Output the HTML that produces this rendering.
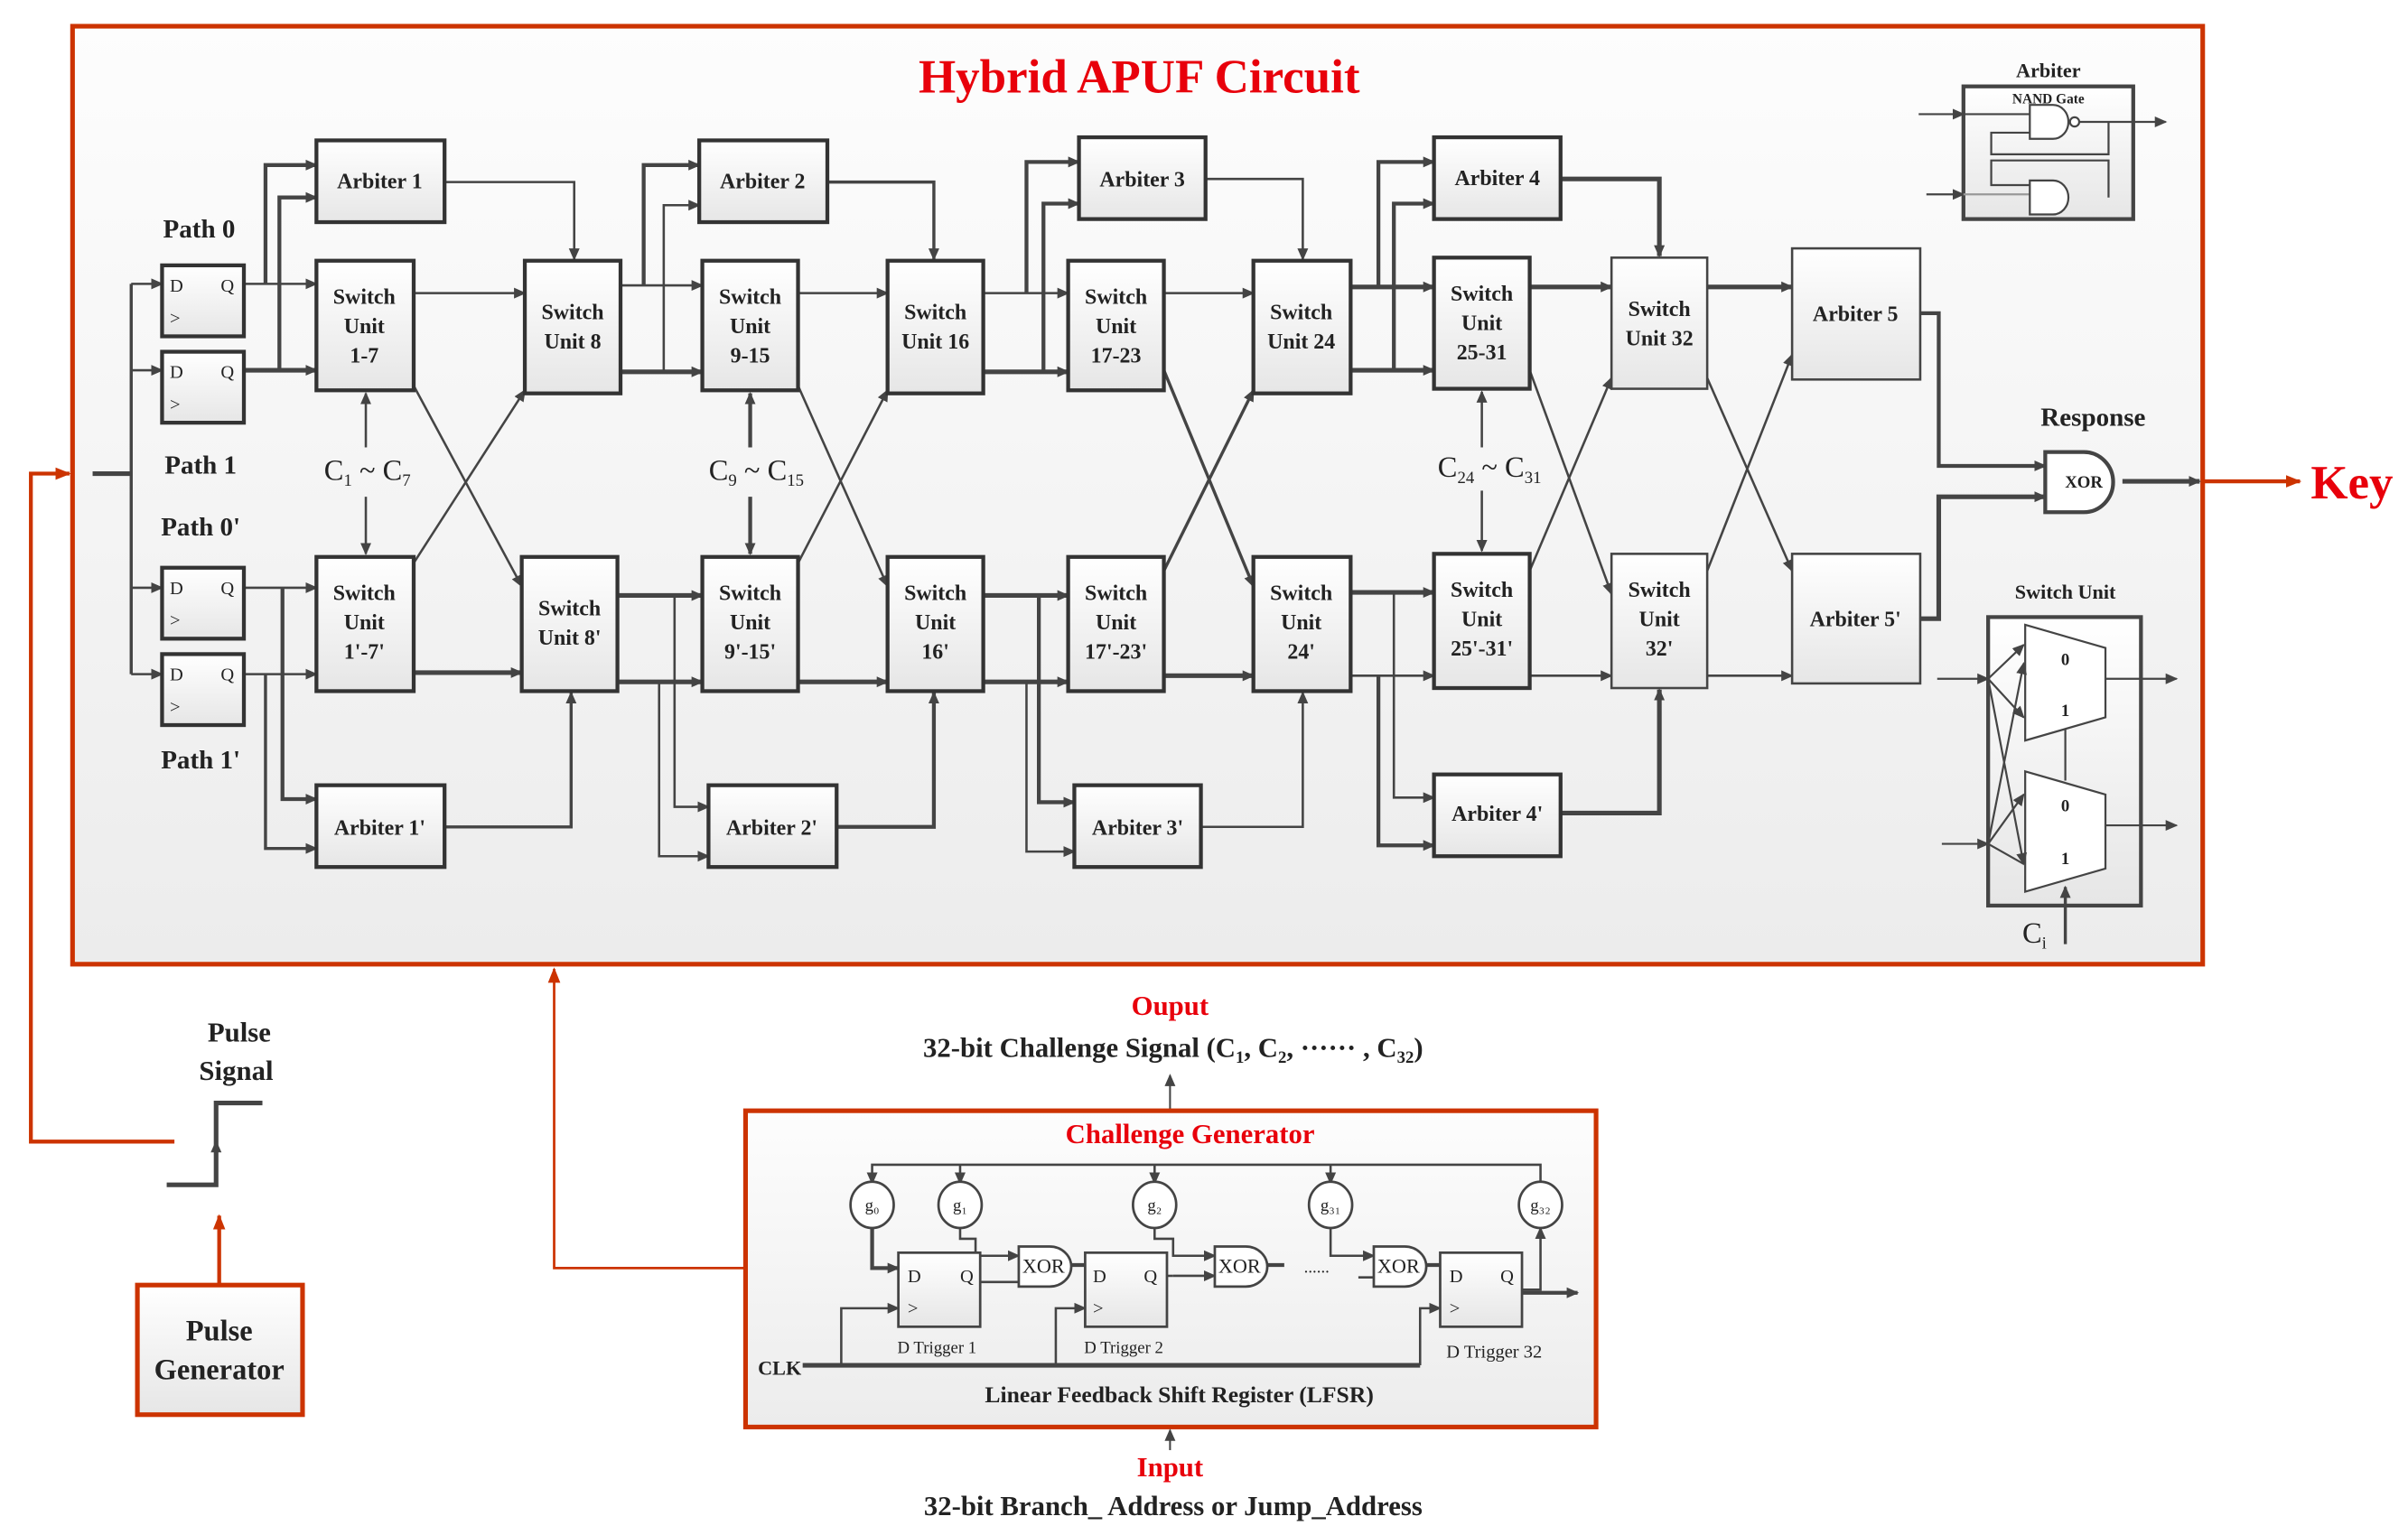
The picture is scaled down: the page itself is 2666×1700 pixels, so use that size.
<!DOCTYPE html>
<html><head><meta charset="utf-8"><style>
html,body{margin:0;padding:0;background:#fff;}
svg{display:block;}
text{font-family:"Liberation Serif",serif;fill:#222;}
.b{font-weight:bold;}
</style></head><body>
<svg width="2666" height="1700" viewBox="0 0 1560 995" preserveAspectRatio="none" xmlns="http://www.w3.org/2000/svg">
<defs>
<linearGradient id="bg" x1="0" y1="0" x2="0" y2="1"><stop offset="0" stop-color="#fdfdfd"/><stop offset="1" stop-color="#ececec"/></linearGradient>
<linearGradient id="bx" x1="0" y1="0" x2="0" y2="1"><stop offset="0" stop-color="#ffffff"/><stop offset="1" stop-color="#e6e6e6"/></linearGradient>
<marker id="a" markerWidth="8" markerHeight="8" refX="7" refY="4" orient="auto" markerUnits="userSpaceOnUse"><path d="M0,0.5 L8,4 L0,7.5 z" fill="#444"/></marker>
<marker id="r" markerWidth="10" markerHeight="10" refX="9" refY="5" orient="auto" markerUnits="userSpaceOnUse"><path d="M0,1 L10,5 L0,9 z" fill="#cc3300"/></marker>
</defs>

<!-- main box -->
<rect x="47" y="17" width="1380" height="608" fill="url(#bg)" stroke="#cc3300" stroke-width="3"/>
<text x="738" y="60" font-size="31" class="b" fill="#e00" text-anchor="middle" style="fill:#e8000b">Hybrid APUF Circuit</text>

<!-- red external -->
<g stroke="#cc3300" stroke-width="2.5" fill="none">
<polyline points="113,740 20,740 20,307 45,307" marker-end="url(#r)"/>
<line x1="142" y1="833" x2="142" y2="788" marker-end="url(#r)"/>
<polyline points="483,822 359,822 359,628" stroke-width="1.6" marker-end="url(#r)"/>
<line x1="1427" y1="312" x2="1490" y2="312" marker-end="url(#r)"/>
</g>
<text x="1497" y="323" font-size="31" class="b" style="fill:#e8000b">Key</text>

<!-- pulse -->
<text x="155" y="675" font-size="18" class="b" text-anchor="middle">Pulse</text>
<text x="153" y="700" font-size="18" class="b" text-anchor="middle">Signal</text>
<polyline points="108,768 140,768 140,715 170,715" fill="none" stroke="#444" stroke-width="3"/>
<line x1="140" y1="752" x2="140" y2="740" stroke="#444" stroke-width="2" marker-end="url(#a)"/>
<rect x="89" y="833" width="107" height="84" fill="url(#bx)" stroke="#cc3300" stroke-width="3"/>
<text x="142" y="869" font-size="19" class="b" text-anchor="middle">Pulse</text>
<text x="142" y="894" font-size="19" class="b" text-anchor="middle">Generator</text>

<!-- challenge generator -->
<text x="758" y="658" font-size="18" class="b" text-anchor="middle" style="fill:#e8000b">Ouput</text>
<text x="760" y="685" font-size="18" class="b" text-anchor="middle">32-bit Challenge Signal (C<tspan font-size="11" dy="4">1</tspan><tspan dy="-4">, C</tspan><tspan font-size="11" dy="4">2</tspan><tspan dy="-4">, ······ , C</tspan><tspan font-size="11" dy="4">32</tspan><tspan dy="-4">)</tspan></text>
<line x1="758" y1="720" x2="758" y2="697" stroke="#444" stroke-width="1.2" marker-end="url(#a)"/>
<rect x="483" y="720" width="551" height="205" fill="url(#bg)" stroke="#cc3300" stroke-width="3"/>
<text x="771" y="741" font-size="18" class="b" text-anchor="middle" style="fill:#e8000b">Challenge Generator</text>
<g stroke="#444" stroke-width="1.5" fill="none">
<polyline points="998,766 998,755 565,755 565,767" marker-end="url(#a)"/>
<line x1="622" y1="755" x2="622" y2="767" marker-end="url(#a)"/>
<line x1="748" y1="755" x2="748" y2="767" marker-end="url(#a)"/>
<line x1="862" y1="755" x2="862" y2="767" marker-end="url(#a)"/>
<polyline points="565,795 565,822 582,822" stroke-width="2.5" marker-end="url(#a)"/>
<polyline points="622,795 622,803 632,803 632,814 660,814" marker-end="url(#a)"/>
<polyline points="748,795 748,803 760,803 760,814 787,814" marker-end="url(#a)"/>
<line x1="760" y1="827" x2="787" y2="827" marker-end="url(#a)"/>
<polyline points="862,795 862,814 890,814" marker-end="url(#a)"/>
<line x1="635" y1="831" x2="660" y2="831"/>
<line x1="693" y1="820" x2="703" y2="820" stroke-width="2.5"/>
<line x1="755" y1="827" x2="760" y2="827"/>
<line x1="820" y1="820" x2="832" y2="820" stroke-width="2.5"/>
<line x1="880" y1="828" x2="890" y2="828"/>
<line x1="923" y1="820" x2="933" y2="820" stroke-width="2.5"/>
<polyline points="986,836 998,836 998,796" marker-end="url(#a)"/>
<line x1="986" y1="838" x2="1022" y2="838" stroke-width="2.5" marker-end="url(#a)"/>
<line x1="520" y1="885" x2="920" y2="885" stroke-width="3"/>
<polyline points="545,885 545,848 582,848" marker-end="url(#a)"/>
<polyline points="684,885 684,848 703,848" marker-end="url(#a)"/>
<polyline points="920,885 920,848 933,848" marker-end="url(#a)"/>
</g>
<g stroke="#444" stroke-width="1.6" fill="#fff">
<ellipse cx="565" cy="781" rx="14" ry="15"/><ellipse cx="622" cy="781" rx="14" ry="15"/><ellipse cx="748" cy="781" rx="14" ry="15"/><ellipse cx="862" cy="781" rx="14" ry="15"/><ellipse cx="998" cy="781" rx="14" ry="15"/>
<rect x="582" y="812" width="53" height="48" fill="url(#bx)"/>
<rect x="703" y="812" width="53" height="48" fill="url(#bx)"/>
<rect x="933" y="812" width="53" height="48" fill="url(#bx)"/>
<path d="M660,808 H680 A14,13 0 0 1 680,834 H660 z"/>
<path d="M787,808 H807 A14,13 0 0 1 807,834 H787 z"/>
<path d="M890,808 H910 A14,13 0 0 1 910,834 H890 z"/>
</g>
<g font-size="11" text-anchor="middle">
<text x="565" y="785">g₀</text><text x="622" y="785">g₁</text><text x="748" y="785">g₂</text><text x="862" y="785">g₃₁</text><text x="998" y="785">g₃₂</text>
<text x="676" y="825" font-size="13">XOR</text><text x="803" y="825" font-size="13">XOR</text><text x="906" y="825" font-size="13">XOR</text>
<text x="853" y="825">......</text>
</g>
<g font-size="12">
<text x="588" y="831">D</text><text x="622" y="831">Q</text><text x="588" y="852">&gt;</text>
<text x="708" y="831">D</text><text x="741" y="831">Q</text><text x="708" y="852">&gt;</text>
<text x="939" y="831">D</text><text x="972" y="831">Q</text><text x="939" y="852">&gt;</text>
<text x="607" y="877" text-anchor="middle" font-size="11">D Trigger 1</text>
<text x="728" y="877" text-anchor="middle" font-size="11">D Trigger 2</text>
<text x="968" y="880" text-anchor="middle" font-size="12">D Trigger 32</text>
<text x="491" y="891" font-size="13" class="b">CLK</text>
</g>
<text x="764" y="909" font-size="15" class="b" text-anchor="middle">Linear Feedback Shift Register (LFSR)</text>
<line x1="758" y1="940" x2="758" y2="927" stroke="#444" stroke-width="1.2" marker-end="url(#a)"/>
<text x="758" y="957" font-size="18" class="b" text-anchor="middle" style="fill:#e8000b">Input</text>
<text x="760" y="982" font-size="18" class="b" text-anchor="middle">32-bit Branch_ Address or Jump_Address</text>

<!-- APUF wiring -->
<g stroke="#444" stroke-width="1.5" fill="none">
<line x1="60" y1="307" x2="85" y2="307" stroke-width="3"/>
<line x1="85" y1="184" x2="85" y2="437" stroke-width="2"/>
<line x1="85" y1="184" x2="105" y2="184" marker-end="url(#a)"/>
<line x1="85" y1="240" x2="105" y2="240" marker-end="url(#a)"/>
<line x1="85" y1="381" x2="105" y2="381" marker-end="url(#a)"/>
<line x1="85" y1="437" x2="105" y2="437" marker-end="url(#a)"/>
<!-- stage A -->
<line x1="158" y1="184" x2="205" y2="184" marker-end="url(#a)"/>
<line x1="158" y1="240" x2="205" y2="240" stroke-width="3" marker-end="url(#a)"/>
<polyline points="172,184 172,107 205,107" stroke-width="2.5" marker-end="url(#a)"/>
<polyline points="181,240 181,128 205,128" stroke-width="2.5" marker-end="url(#a)"/>
<line x1="158" y1="381" x2="205" y2="381" marker-end="url(#a)"/>
<line x1="158" y1="437" x2="205" y2="437" marker-end="url(#a)"/>
<polyline points="183,381 183,518 205,518" stroke-width="2.5" marker-end="url(#a)"/>
<polyline points="172,437 172,550 205,550" stroke-width="2" marker-end="url(#a)"/>
<!-- stage B -->
<line x1="268" y1="190" x2="340" y2="190" marker-end="url(#a)"/>
<line x1="268" y1="250" x2="338" y2="380" marker-end="url(#a)"/>
<line x1="268" y1="365" x2="340" y2="253" marker-end="url(#a)"/>
<line x1="268" y1="436" x2="338" y2="436" stroke-width="3" marker-end="url(#a)"/>
<polyline points="288,118 372,118 372,168" marker-end="url(#a)"/>
<polyline points="288,536 370,536 370,449" stroke-width="2" marker-end="url(#a)"/>
<!-- stage C -->
<line x1="402" y1="185" x2="455" y2="185" marker-end="url(#a)"/>
<line x1="402" y1="241" x2="455" y2="241" stroke-width="3" marker-end="url(#a)"/>
<polyline points="417,185 417,107 453,107" stroke-width="2.5" marker-end="url(#a)"/>
<polyline points="430,241 430,133 453,133" marker-end="url(#a)"/>
<line x1="400" y1="386" x2="455" y2="386" stroke-width="3" marker-end="url(#a)"/>
<line x1="400" y1="442" x2="455" y2="442" stroke-width="3" marker-end="url(#a)"/>
<polyline points="437,386 437,523 459,523" marker-end="url(#a)"/>
<polyline points="427,442 427,555 459,555" marker-end="url(#a)"/>
<!-- stage D -->
<line x1="517" y1="190" x2="575" y2="190" marker-end="url(#a)"/>
<line x1="517" y1="250" x2="575" y2="380" marker-end="url(#a)"/>
<line x1="517" y1="365" x2="575" y2="253" marker-end="url(#a)"/>
<line x1="517" y1="442" x2="575" y2="442" stroke-width="3" marker-end="url(#a)"/>
<polyline points="536,118 605,118 605,168" stroke-width="2" marker-end="url(#a)"/>
<polyline points="542,536 605,536 605,449" stroke-width="2.5" marker-end="url(#a)"/>
<!-- stage E -->
<line x1="637" y1="190" x2="692" y2="190" marker-end="url(#a)"/>
<line x1="637" y1="241" x2="692" y2="241" stroke-width="3" marker-end="url(#a)"/>
<polyline points="665,190 665,105 699,105" stroke-width="2.5" marker-end="url(#a)"/>
<polyline points="676,241 676,132 699,132" stroke-width="2.5" marker-end="url(#a)"/>
<line x1="637" y1="386" x2="692" y2="386" stroke-width="3" marker-end="url(#a)"/>
<line x1="637" y1="442" x2="692" y2="442" stroke-width="3" marker-end="url(#a)"/>
<polyline points="673,386 673,520 696,520" stroke-width="2.5" marker-end="url(#a)"/>
<polyline points="665,442 665,552 696,552" marker-end="url(#a)"/>
<!-- stage F -->
<line x1="754" y1="190" x2="812" y2="190" marker-end="url(#a)"/>
<line x1="754" y1="240" x2="812" y2="380" stroke-width="2" marker-end="url(#a)"/>
<line x1="754" y1="370" x2="812" y2="253" stroke-width="2" marker-end="url(#a)"/>
<line x1="754" y1="438" x2="812" y2="438" stroke-width="3" marker-end="url(#a)"/>
<polyline points="781,116 844,116 844,168" marker-end="url(#a)"/>
<polyline points="778,536 844,536 844,449" marker-end="url(#a)"/>
<!-- stage G -->
<line x1="875" y1="186" x2="929" y2="186" stroke-width="3" marker-end="url(#a)"/>
<line x1="875" y1="240" x2="929" y2="240" stroke-width="3" marker-end="url(#a)"/>
<polyline points="893,186 893,105 929,105" stroke-width="2.5" marker-end="url(#a)"/>
<polyline points="903,240 903,132 929,132" stroke-width="2.5" marker-end="url(#a)"/>
<line x1="875" y1="384" x2="929" y2="384" stroke-width="3" marker-end="url(#a)"/>
<line x1="875" y1="438" x2="929" y2="438" marker-end="url(#a)"/>
<polyline points="903,384 903,517 929,517" marker-end="url(#a)"/>
<polyline points="893,438 893,548 929,548" stroke-width="2.5" marker-end="url(#a)"/>
<!-- stage H -->
<line x1="991" y1="186" x2="1044" y2="186" stroke-width="3" marker-end="url(#a)"/>
<line x1="991" y1="240" x2="1044" y2="385" marker-end="url(#a)"/>
<line x1="991" y1="370" x2="1044" y2="245" marker-end="url(#a)"/>
<line x1="991" y1="438" x2="1044" y2="438" marker-end="url(#a)"/>
<polyline points="1011,116 1075,116 1075,166" stroke-width="3" marker-end="url(#a)"/>
<polyline points="1011,527 1075,527 1075,447" stroke-width="3" marker-end="url(#a)"/>
<!-- stage I -->
<line x1="1106" y1="186" x2="1161" y2="186" stroke-width="3" marker-end="url(#a)"/>
<line x1="1106" y1="245" x2="1161" y2="370" marker-end="url(#a)"/>
<line x1="1106" y1="370" x2="1161" y2="230" marker-end="url(#a)"/>
<line x1="1106" y1="438" x2="1161" y2="438" marker-end="url(#a)"/>
<!-- response -->
<polyline points="1244,203 1256,203 1256,302 1325,302" stroke-width="2.5" marker-end="url(#a)"/>
<polyline points="1244,401 1256,401 1256,322 1325,322" stroke-width="3" marker-end="url(#a)"/>
<line x1="1375" y1="312" x2="1425" y2="312" stroke-width="3" marker-end="url(#a)"/>
<!-- C arrows -->
<line x1="237" y1="290" x2="237" y2="255" marker-end="url(#a)"/><line x1="237" y1="322" x2="237" y2="359" marker-end="url(#a)"/>
<line x1="486" y1="290" x2="486" y2="255" stroke-width="2.5" marker-end="url(#a)"/><line x1="486" y1="322" x2="486" y2="359" stroke-width="2.5" marker-end="url(#a)"/>
<line x1="960" y1="290" x2="960" y2="254" marker-end="url(#a)"/><line x1="960" y1="318" x2="960" y2="357" marker-end="url(#a)"/>
</g>

<!-- boxes -->
<g stroke="#333" stroke-width="2.5" fill="url(#bx)">
<rect x="105" y="172" width="53" height="46"/><rect x="105" y="228" width="53" height="46"/>
<rect x="105" y="368" width="53" height="46"/><rect x="105" y="424" width="53" height="46"/>
<rect x="205" y="91" width="83" height="53"/><rect x="205" y="509" width="83" height="53"/>
<rect x="205" y="169" width="63" height="84"/><rect x="205" y="361" width="63" height="87"/>
<rect x="340" y="169" width="62" height="86"/><rect x="338" y="361" width="62" height="87"/>
<rect x="453" y="91" width="83" height="53"/><rect x="459" y="509" width="83" height="53"/>
<rect x="455" y="169" width="62" height="84"/><rect x="455" y="361" width="62" height="87"/>
<rect x="575" y="169" width="62" height="86"/><rect x="575" y="361" width="62" height="87"/>
<rect x="699" y="89" width="82" height="53"/><rect x="696" y="509" width="82" height="53"/>
<rect x="692" y="169" width="62" height="84"/><rect x="692" y="361" width="62" height="87"/>
<rect x="812" y="169" width="63" height="86"/><rect x="812" y="361" width="63" height="87"/>
<rect x="929" y="89" width="82" height="53"/><rect x="929" y="502" width="82" height="53"/>
<rect x="929" y="167" width="62" height="85"/><rect x="929" y="359" width="62" height="87"/>
</g>
<g stroke="#444" stroke-width="1.5" fill="url(#bx)">
<rect x="1044" y="167" width="62" height="85"/><rect x="1044" y="359" width="62" height="87"/>
<rect x="1161" y="161" width="83" height="85"/><rect x="1161" y="359" width="83" height="84"/>
<path d="M1325,293 H1350 A19,19.5 0 0 1 1350,332 H1325 z" stroke-width="2.5" fill="#fff"/>
</g>
<g font-size="12">
<text x="110" y="189">D</text><text x="143" y="189">Q</text><text x="110" y="210">&gt;</text>
<text x="110" y="245">D</text><text x="143" y="245">Q</text><text x="110" y="266">&gt;</text>
<text x="110" y="385">D</text><text x="143" y="385">Q</text><text x="110" y="406">&gt;</text>
<text x="110" y="441">D</text><text x="143" y="441">Q</text><text x="110" y="462">&gt;</text>
</g>
<g font-size="17" class="b" text-anchor="middle">
<text x="129" y="154">Path 0</text><text x="130" y="307">Path 1</text><text x="130" y="347">Path 0'</text><text x="130" y="498">Path 1'</text>
<text x="1356" y="276">Response</text>
</g>
<g font-size="19" text-anchor="middle">
<text x="238" y="311">C<tspan font-size="11" dy="4">1</tspan><tspan dy="-4"> ~ C</tspan><tspan font-size="11" dy="4">7</tspan></text>
<text x="490" y="311">C<tspan font-size="11" dy="4">9</tspan><tspan dy="-4"> ~ C</tspan><tspan font-size="11" dy="4">15</tspan></text>
<text x="965" y="309">C<tspan font-size="11" dy="4">24</tspan><tspan dy="-4"> ~ C</tspan><tspan font-size="11" dy="4">31</tspan></text>
<text x="1318" y="611">C<tspan font-size="11" dy="4">i</tspan></text>
</g>
<g font-size="14" class="b" text-anchor="middle">
<text x="246" y="122">Arbiter 1</text><text x="246" y="541">Arbiter 1'</text>
<text x="494" y="122">Arbiter 2</text><text x="500" y="541">Arbiter 2'</text>
<text x="740" y="121">Arbiter 3</text><text x="737" y="541">Arbiter 3'</text>
<text x="970" y="120">Arbiter 4</text><text x="970" y="532">Arbiter 4'</text>
<text x="1202" y="208">Arbiter 5</text><text x="1202" y="406">Arbiter 5'</text>
<text x="236" y="197">Switch</text><text x="236" y="216">Unit</text><text x="236" y="235">1-7</text>
<text x="236" y="389">Switch</text><text x="236" y="408">Unit</text><text x="236" y="427">1'-7'</text>
<text x="371" y="207">Switch</text><text x="371" y="226">Unit  8</text>
<text x="369" y="399">Switch</text><text x="369" y="418">Unit  8'</text>
<text x="486" y="197">Switch</text><text x="486" y="216">Unit</text><text x="486" y="235">9-15</text>
<text x="486" y="389">Switch</text><text x="486" y="408">Unit</text><text x="486" y="427">9'-15'</text>
<text x="606" y="207">Switch</text><text x="606" y="226">Unit 16</text>
<text x="606" y="389">Switch</text><text x="606" y="408">Unit</text><text x="606" y="427">16'</text>
<text x="723" y="197">Switch</text><text x="723" y="216">Unit</text><text x="723" y="235">17-23</text>
<text x="723" y="389">Switch</text><text x="723" y="408">Unit</text><text x="723" y="427">17'-23'</text>
<text x="843" y="207">Switch</text><text x="843" y="226">Unit 24</text>
<text x="843" y="389">Switch</text><text x="843" y="408">Unit</text><text x="843" y="427">24'</text>
<text x="960" y="195">Switch</text><text x="960" y="214">Unit</text><text x="960" y="233">25-31</text>
<text x="960" y="387">Switch</text><text x="960" y="406">Unit</text><text x="960" y="425">25'-31'</text>
<text x="1075" y="205">Switch</text><text x="1075" y="224">Unit 32</text>
<text x="1075" y="387">Switch</text><text x="1075" y="406">Unit</text><text x="1075" y="425">32'</text>
<text x="1350" y="316" font-size="11">XOR</text>
</g>

<!-- arbiter inset -->
<text x="1327" y="50" font-size="13" class="b" text-anchor="middle">Arbiter</text>
<rect x="1272" y="56" width="110" height="86" fill="url(#bx)" stroke="#444" stroke-width="2.5"/>
<text x="1327" y="67" font-size="9" class="b" text-anchor="middle">NAND Gate</text>
<g stroke="#444" stroke-width="1.3" fill="none">
<line x1="1243" y1="74" x2="1272" y2="74" marker-end="url(#a)"/>
<line x1="1272" y1="74" x2="1315" y2="74"/>
<line x1="1248" y1="126" x2="1272" y2="126" marker-end="url(#a)"/>
<line x1="1272" y1="126" x2="1315" y2="126" stroke="#999"/>
<path d="M1315,68 H1330 A10,11 0 0 1 1330,90 H1315 z" fill="#fff"/>
<circle cx="1344" cy="79" r="3" fill="#fff"/>
<line x1="1347" y1="79" x2="1403" y2="79" marker-end="url(#a)"/>
<path d="M1315,117 H1330 A10,11 0 0 1 1330,139 H1315 z" fill="#fff"/>
<polyline points="1315,86 1290,86 1290,100 1366,100 1366,79"/>
<polyline points="1366,128 1366,104 1290,104 1290,120 1315,120" stroke-dasharray="0"/>
</g>

<!-- switch unit inset -->
<text x="1338" y="388" font-size="13" class="b" text-anchor="middle">Switch Unit</text>
<rect x="1288" y="400" width="99" height="187" fill="url(#bx)" stroke="#444" stroke-width="2.5"/>
<g stroke="#444" stroke-width="1.3" fill="#fff">
<polygon points="1312,405 1364,420 1364,465 1312,480"/>
<polygon points="1312,500 1364,515 1364,563 1312,578"/>
</g>
<g stroke="#444" stroke-width="1.3" fill="none">
<line x1="1255" y1="440" x2="1288" y2="440" marker-end="url(#a)"/>
<line x1="1258" y1="547" x2="1288" y2="547" marker-end="url(#a)"/>
<line x1="1288" y1="440" x2="1311" y2="418" marker-end="url(#a)"/>
<line x1="1288" y1="440" x2="1311" y2="465" marker-end="url(#a)"/>
<line x1="1288" y1="440" x2="1311" y2="560" marker-end="url(#a)"/>
<line x1="1288" y1="547" x2="1311" y2="515" marker-end="url(#a)"/>
<line x1="1288" y1="547" x2="1311" y2="430" marker-end="url(#a)"/>
<line x1="1288" y1="547" x2="1311" y2="560"/>
<line x1="1364" y1="440" x2="1410" y2="440" marker-end="url(#a)"/>
<line x1="1364" y1="535" x2="1410" y2="535" marker-end="url(#a)"/>
<line x1="1338" y1="472" x2="1338" y2="506"/>
<line x1="1338" y1="612" x2="1338" y2="575" stroke-width="2" marker-end="url(#a)"/>
</g>
<g font-size="11" class="b" text-anchor="middle">
<text x="1338" y="431">0</text><text x="1338" y="464">1</text>
<text x="1338" y="526">0</text><text x="1338" y="560">1</text>
</g>
</svg>
</body></html>
